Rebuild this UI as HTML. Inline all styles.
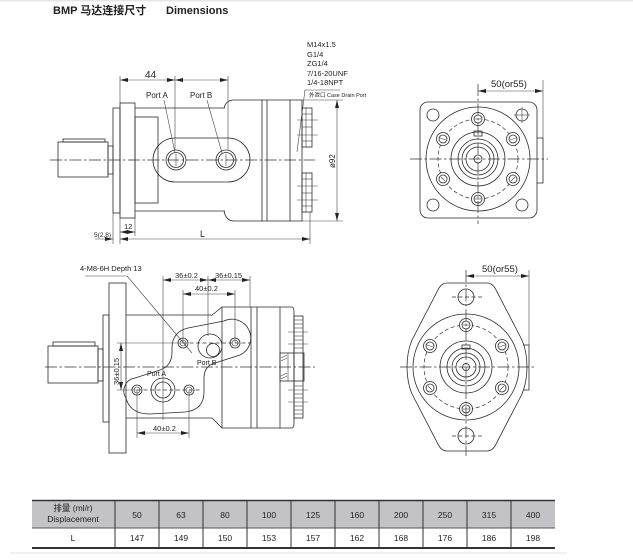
<!DOCTYPE html>
<html><head><meta charset="utf-8">
<style>
html,body{margin:0;padding:0;background:#fff;}
svg{display:block;}
.l{fill:none;stroke:#2a2a2a;stroke-width:0.8;}
.t{fill:none;stroke:#444;stroke-width:0.6;}
.c{fill:none;stroke:#333;stroke-width:0.7;stroke-dasharray:12 2.5 2.5 2.5;}
.d{fill:none;stroke:#333;stroke-width:0.7;stroke-dasharray:4 2.5;}
text{font-family:"Liberation Sans","Noto Sans CJK SC",sans-serif;fill:#222;}
</style></head><body>
<svg width="633" height="560" viewBox="0 0 633 560" xmlns="http://www.w3.org/2000/svg">
<defs>
<marker id="a" viewBox="0 0 8 4" refX="8" refY="2" markerWidth="8" markerHeight="4" markerUnits="userSpaceOnUse" orient="auto-start-reverse">
<path d="M0 0 L8 2 L0 4 Z" fill="#222"/></marker>
</defs>
<rect x="0" y="0" width="633" height="1.5" fill="#e6e6e6"/>

<!-- Title -->
<text x="53" y="14" font-size="11" font-weight="bold">BMP 马达连接尺寸</text>
<text x="166" y="14" font-size="11" font-weight="bold">Dimensions</text>

<!-- ========== TOP-LEFT SIDE VIEW ========== -->
<rect class="l" x="63" y="139" width="42" height="3"/>
<rect class="l" x="58" y="142" width="50" height="35"/>
<rect class="l" x="108" y="146" width="5" height="28"/>
<rect class="l" x="113" y="108" width="7" height="105"/>
<rect class="l" x="120" y="103" width="15" height="115"/>
<line class="l" x1="135" y1="108" x2="225" y2="108"/>
<line class="l" x1="135" y1="211" x2="225" y2="211"/>
<rect class="l" x="135" y="117" width="23" height="86"/>
<path class="l" d="M224 108 Q226 100 234 100 L302 100 L302 221 L234 221 Q226 221 224 211"/>
<line class="l" x1="262" y1="100" x2="262" y2="221"/>
<line class="l" x1="267" y1="100" x2="267" y2="221"/>
<line class="l" x1="290" y1="100" x2="290" y2="221"/>
<!-- port boss -->
<path class="l" d="M175 138 L228 138 A22 22 0 0 1 228 182 L175 182 A22 22 0 0 1 175 138 Z" fill="#fff"/>
<circle class="l" cx="176" cy="160" r="10"/><circle class="l" cx="176" cy="160" r="7.5"/>
<circle class="l" cx="226" cy="160" r="10"/><circle class="l" cx="226" cy="160" r="7.5"/>
<line class="t" x1="176" y1="154" x2="176" y2="166"/><line class="t" x1="226" y1="154" x2="226" y2="166"/>
<!-- end cap -->
<rect class="l" x="302" y="108" width="10" height="39"/>
<rect class="l" x="302" y="173" width="10" height="39"/>
<line class="t" x1="306" y1="108" x2="306" y2="147"/><line class="t" x1="306" y1="173" x2="306" y2="212"/>
<g class="t">
<line x1="302" y1="114" x2="312" y2="114"/><line x1="297" y1="120" x2="318" y2="120"/><line x1="302" y1="127" x2="312" y2="127"/><line x1="297" y1="135" x2="318" y2="135"/><line x1="302" y1="141" x2="312" y2="141"/>
<line x1="302" y1="179" x2="312" y2="179"/><line x1="297" y1="186" x2="318" y2="186"/><line x1="302" y1="193" x2="312" y2="193"/><line x1="297" y1="200" x2="318" y2="200"/><line x1="302" y1="206" x2="312" y2="206"/>
</g>
<line class="c" x1="50" y1="160" x2="315" y2="160"/>
<!-- 44 dims -->
<line class="t" x1="120" y1="76" x2="120" y2="103"/>
<line class="t" x1="175" y1="76" x2="175" y2="150"/>
<line class="t" x1="228" y1="76" x2="228" y2="150"/>
<line class="t" x1="120" y1="80" x2="175" y2="80" marker-start="url(#a)" marker-end="url(#a)"/>
<line class="t" x1="175" y1="80" x2="228" y2="80" marker-start="url(#a)" marker-end="url(#a)"/>
<text x="145" y="78" font-size="10">44</text>
<text x="146" y="98" font-size="8">Port A</text>
<text x="190" y="98" font-size="8">Port B</text>
<line class="t" x1="164" y1="100" x2="175" y2="153"/>
<line class="t" x1="207" y1="100" x2="222" y2="153"/>
<!-- ports text -->
<text x="307" y="47" font-size="7.5">M14x1.5</text>
<text x="307" y="57" font-size="7.5">G1/4</text>
<text x="307" y="66" font-size="7.5">ZG1/4</text>
<text x="307" y="76" font-size="7.5">7/16-20UNF</text>
<text x="307" y="85" font-size="7.5">1/4-18NPT</text>
<text x="309" y="97" font-size="5.5">外泄口 Case Drain Port</text>
<line class="t" x1="305" y1="90" x2="340" y2="90"/>
<line class="t" x1="305" y1="90" x2="297" y2="152"/>
<!-- ø92 -->
<line class="t" x1="302" y1="100" x2="343" y2="100"/>
<line class="t" x1="302" y1="221" x2="343" y2="221"/>
<line class="t" x1="337" y1="100" x2="337" y2="221" marker-start="url(#a)" marker-end="url(#a)"/>
<text x="0" y="0" font-size="8" transform="translate(335,168) rotate(-90)">ø92</text>
<!-- bottom dims -->
<line class="t" x1="113" y1="213" x2="113" y2="244"/>
<line class="t" x1="120" y1="218" x2="120" y2="244"/>
<line class="t" x1="135" y1="218" x2="135" y2="236"/>
<line class="t" x1="310" y1="212" x2="310" y2="244"/>
<line class="t" x1="120" y1="232" x2="135" y2="232" marker-start="url(#a)" marker-end="url(#a)"/>
<text x="124" y="229" font-size="7.5">12</text>
<line class="t" x1="120" y1="239" x2="310" y2="239" marker-start="url(#a)" marker-end="url(#a)"/>
<text x="200" y="237" font-size="9">L</text>
<line class="t" x1="95" y1="239" x2="113" y2="239" marker-end="url(#a)"/>
<text x="94" y="237" font-size="6.5">5(2,8)</text>

<!-- ========== TOP-RIGHT FRONT VIEW ========== -->
<rect class="l" x="420" y="102" width="117" height="116" rx="8"/>
<circle class="l" cx="433" cy="115" r="6"/>
<circle class="l" cx="522" cy="115" r="6"/>
<line class="t" x1="514" y1="115" x2="530" y2="115"/><line class="t" x1="522" y1="107" x2="522" y2="123"/>
<circle class="l" cx="433" cy="205" r="6"/>
<circle class="l" cx="522" cy="205" r="6"/>
<circle class="l" cx="478" cy="159" r="52"/>
<circle class="d" cx="478" cy="159" r="40"/>
<circle class="l" cx="478" cy="159" r="27"/>
<circle class="l" cx="478" cy="159" r="20"/>
<circle class="l" cx="478" cy="159" r="16"/>
<circle class="l" cx="478" cy="159" r="12"/>
<circle class="l" cx="478" cy="159" r="4" fill="#555"/>
<rect class="l" x="474" y="131" width="8" height="5"/>
<g class="l" fill="#fff">
<circle cx="478" cy="119" r="6.5" fill="#fff"/><circle cx="478" cy="119" r="4"/>
<circle cx="513" cy="139" r="6.5" fill="#fff"/><circle cx="513" cy="139" r="4"/>
<circle cx="513" cy="179" r="6.5" fill="#fff"/><circle cx="513" cy="179" r="4"/>
<circle cx="478" cy="199" r="6.5" fill="#fff"/><circle cx="478" cy="199" r="4"/>
<circle cx="443" cy="139" r="6.5" fill="#fff"/><circle cx="443" cy="139" r="4"/>
<circle cx="443" cy="179" r="6.5" fill="#fff"/><circle cx="443" cy="179" r="4"/>
</g>
<g class="t"><line x1="475" y1="119" x2="481" y2="119"/><line x1="510" y1="140" x2="516" y2="138"/><line x1="511" y1="181" x2="515" y2="177"/><line x1="475" y1="199" x2="481" y2="199"/><line x1="440" y1="138" x2="446" y2="140"/><line x1="441" y1="177" x2="445" y2="181"/></g>
<line class="c" x1="410" y1="159" x2="548" y2="159"/>
<line class="c" x1="478" y1="84" x2="478" y2="224"/>
<path class="l" d="M537 138 L543 138 L543 183 L537 183"/>
<line class="t" x1="543" y1="80" x2="543" y2="138"/>
<line class="t" x1="478" y1="91" x2="543" y2="91" marker-start="url(#a)" marker-end="url(#a)"/>
<text x="491" y="87" font-size="9.5">50(or55)</text>

<!-- ========== BOTTOM-LEFT SIDE VIEW ========== -->
<rect class="l" x="53" y="342" width="42" height="4"/>
<rect class="l" x="48" y="346" width="50" height="37"/>
<rect class="l" x="98" y="349" width="5" height="32"/>
<rect class="l" x="103" y="315" width="6" height="107"/>
<rect class="l" x="109" y="283" width="17" height="170"/>
<line class="l" x1="126" y1="315" x2="211" y2="315"/>
<line class="l" x1="126" y1="418" x2="212" y2="418"/>
<path class="l" d="M211 316 L222 307 L292 307 Q294 307 294 312 L294 423 Q294 428 292 428 L222 428 L212 418"/>
<line class="l" x1="222" y1="307" x2="222" y2="428"/>
<line class="l" x1="251" y1="307" x2="251" y2="428"/>
<line class="l" x1="257" y1="307" x2="257" y2="428"/>
<line class="l" x1="280" y1="307" x2="280" y2="428"/>
<!-- end cap -->
<rect class="l" x="294" y="316" width="9" height="102" fill="#fff"/>
<g class="t">
<line x1="294" y1="320" x2="303" y2="320"/><line x1="294" y1="324" x2="303" y2="324"/><line x1="294" y1="328" x2="303" y2="328"/><line x1="288" y1="332" x2="308" y2="332"/><line x1="294" y1="336" x2="303" y2="336"/><line x1="294" y1="340" x2="303" y2="340"/><line x1="288" y1="344" x2="308" y2="344"/><line x1="294" y1="348" x2="303" y2="348"/>
<line x1="294" y1="386" x2="303" y2="386"/><line x1="288" y1="390" x2="308" y2="390"/><line x1="294" y1="394" x2="303" y2="394"/><line x1="294" y1="398" x2="303" y2="398"/><line x1="288" y1="402" x2="308" y2="402"/><line x1="294" y1="406" x2="303" y2="406"/><line x1="294" y1="410" x2="303" y2="410"/><line x1="294" y1="414" x2="303" y2="414"/>
</g>
<rect class="l" x="280" y="353" width="24" height="28" fill="#fff"/>
<line class="t" x1="288" y1="353" x2="288" y2="381"/>
<g class="t"><line x1="281" y1="358" x2="287" y2="355"/><line x1="281" y1="361" x2="287" y2="358"/><line x1="281" y1="376" x2="287" y2="373"/><line x1="281" y1="379" x2="287" y2="376"/></g>
<!-- port plate -->
<path class="l" fill="#fff" d="M172 348 Q172 332 188 328 L224 321 A13 13 0 0 1 240 355 L212 364 Q204 368 204 378 L204 392 Q204 410 185 412 L150 414 Q130 414 126 398 A13 13 0 0 1 135 378 L160 370 Q172 366 172 352 Z"/>
<circle class="l" cx="210" cy="346" r="12"/>
<circle class="l" cx="213" cy="350" r="6.5"/>
<circle class="l" cx="163" cy="390" r="12"/>
<circle class="l" cx="163" cy="390" r="8"/>
<circle class="l" cx="183" cy="343" r="5"/><circle class="t" cx="183" cy="343" r="3"/>
<circle class="l" cx="235" cy="343" r="5"/><circle class="t" cx="235" cy="343" r="3"/>
<circle class="l" cx="137" cy="390" r="5"/><circle class="t" cx="137" cy="390" r="3"/>
<circle class="l" cx="189" cy="390" r="5"/><circle class="t" cx="189" cy="390" r="3"/>
<text x="197" y="365" font-size="7">Port B</text>
<text x="147" y="376" font-size="7">Port A</text>
<line class="c" x1="45" y1="367" x2="315" y2="367"/>
<!-- dims -->
<line class="t" x1="117" y1="343" x2="183" y2="343"/>
<line class="d" x1="183" y1="343" x2="250" y2="343"/>
<line class="t" x1="117" y1="390" x2="137" y2="390"/>
<line class="d" x1="137" y1="390" x2="200" y2="390"/>
<line class="t" x1="121" y1="343" x2="121" y2="390" marker-start="url(#a)" marker-end="url(#a)"/>
<text x="0" y="0" font-size="7.5" transform="translate(119,385) rotate(-90)">36±0.15</text>
<line class="t" x1="163" y1="276" x2="163" y2="420"/>
<line class="t" x1="208" y1="276" x2="208" y2="336"/>
<line class="t" x1="250" y1="276" x2="250" y2="307"/>
<line class="t" x1="163" y1="280" x2="208" y2="280" marker-start="url(#a)" marker-end="url(#a)"/>
<line class="t" x1="208" y1="280" x2="250" y2="280" marker-start="url(#a)" marker-end="url(#a)"/>
<text x="175" y="278" font-size="7.5">36±0.2</text>
<text x="215" y="278" font-size="7.5">36±0.15</text>
<line class="t" x1="183" y1="290" x2="183" y2="343"/>
<line class="t" x1="235" y1="290" x2="235" y2="343"/>
<line class="t" x1="183" y1="294" x2="235" y2="294" marker-start="url(#a)" marker-end="url(#a)"/>
<text x="195" y="291" font-size="7.5">40±0.2</text>
<line class="t" x1="137" y1="390" x2="137" y2="438"/>
<line class="t" x1="189" y1="390" x2="189" y2="438"/>
<line class="t" x1="137" y1="433" x2="189" y2="433" marker-start="url(#a)" marker-end="url(#a)"/>
<text x="153" y="431" font-size="7.5">40±0.2</text>
<text x="80" y="271" font-size="7.5">4-M8-6H Depth 13</text>
<line class="t" x1="85" y1="276" x2="127" y2="276"/>
<line class="t" x1="127" y1="276" x2="192" y2="353"/>

<!-- ========== BOTTOM-RIGHT FRONT VIEW ========== -->
<path class="l" d="M447 283 L487 283 Q492 283 495 288 L522 340 Q527 352 527 367 Q527 382 522 394 L495 446 Q492 451 487 451 L447 451 Q442 451 439 446 L412 394 Q407 382 407 367 Q407 352 412 340 L439 288 Q442 283 447 283 Z"/>
<circle class="l" cx="466" cy="297" r="8"/>
<circle class="l" cx="466" cy="436" r="8"/>
<line class="d" x1="452" y1="297" x2="482" y2="297"/>
<line class="d" x1="452" y1="436" x2="482" y2="436"/>
<circle class="l" cx="466" cy="367" r="53"/>
<circle class="d" cx="466" cy="367" r="42"/>
<circle class="l" cx="466" cy="367" r="26"/>
<circle class="l" cx="466" cy="367" r="19"/>
<circle class="l" cx="466" cy="367" r="14"/>
<circle class="l" cx="466" cy="367" r="10"/>
<circle class="l" cx="466" cy="367" r="3.5" fill="#555"/>
<rect class="l" x="462" y="345" width="8" height="4"/>
<g class="l">
<circle cx="466" cy="325" r="6.5" fill="#fff"/><circle cx="466" cy="325" r="4"/>
<circle cx="502" cy="346" r="6.5" fill="#fff"/><circle cx="502" cy="346" r="4"/>
<circle cx="502" cy="388" r="6.5" fill="#fff"/><circle cx="502" cy="388" r="4"/>
<circle cx="466" cy="409" r="6.5" fill="#fff"/><circle cx="466" cy="409" r="4"/>
<circle cx="430" cy="346" r="6.5" fill="#fff"/><circle cx="430" cy="346" r="4"/>
<circle cx="430" cy="388" r="6.5" fill="#fff"/><circle cx="430" cy="388" r="4"/>
</g>
<g class="t"><line x1="463" y1="325" x2="469" y2="325"/><line x1="499" y1="347" x2="505" y2="345"/><line x1="500" y1="390" x2="504" y2="386"/><line x1="463" y1="409" x2="469" y2="409"/><line x1="427" y1="345" x2="433" y2="347"/><line x1="428" y1="386" x2="432" y2="390"/></g>
<line class="c" x1="400" y1="367" x2="535" y2="367"/>
<line class="c" x1="466" y1="270" x2="466" y2="456"/>
<path class="l" d="M523 345 L529 345 L529 390 L523 390"/>
<line class="t" x1="529" y1="270" x2="529" y2="345"/>
<line class="t" x1="466" y1="276" x2="529" y2="276" marker-start="url(#a)" marker-end="url(#a)"/>
<text x="482" y="272" font-size="9.5">50(or55)</text>

<!-- ========== TABLE ========== -->
<rect x="32" y="500" width="523" height="28" fill="#c3c3c7"/>
<line x1="32" y1="500.5" x2="555" y2="500.5" stroke="#333" stroke-width="1.5"/>
<line x1="32" y1="528" x2="555" y2="528" stroke="#555" stroke-width="1"/>
<line x1="32" y1="548" x2="555" y2="548" stroke="#333" stroke-width="2"/>
<g stroke="#333" stroke-width="1">
<line x1="115" y1="500" x2="115" y2="548"/><line x1="159" y1="500" x2="159" y2="548"/><line x1="203" y1="500" x2="203" y2="548"/><line x1="247" y1="500" x2="247" y2="548"/><line x1="291" y1="500" x2="291" y2="548"/><line x1="335" y1="500" x2="335" y2="548"/><line x1="379" y1="500" x2="379" y2="548"/><line x1="423" y1="500" x2="423" y2="548"/><line x1="467" y1="500" x2="467" y2="548"/><line x1="511" y1="500" x2="511" y2="548"/>
</g>
<rect x="10" y="552.5" width="557" height="1" fill="#e4e4e4"/>
<g font-size="8.5" text-anchor="middle">
<text x="73" y="511">排量 (ml/r)</text>
<text x="73" y="522">Displacement</text>
<text x="137" y="518">50</text><text x="181" y="518">63</text><text x="225" y="518">80</text><text x="269" y="518">100</text><text x="313" y="518">125</text><text x="357" y="518">160</text><text x="401" y="518">200</text><text x="445" y="518">250</text><text x="489" y="518">315</text><text x="533" y="518">400</text>
<text x="73" y="541">L</text>
<text x="137" y="541">147</text><text x="181" y="541">149</text><text x="225" y="541">150</text><text x="269" y="541">153</text><text x="313" y="541">157</text><text x="357" y="541">162</text><text x="401" y="541">168</text><text x="445" y="541">176</text><text x="489" y="541">186</text><text x="533" y="541">198</text>
</g>
</svg>
</body></html>
